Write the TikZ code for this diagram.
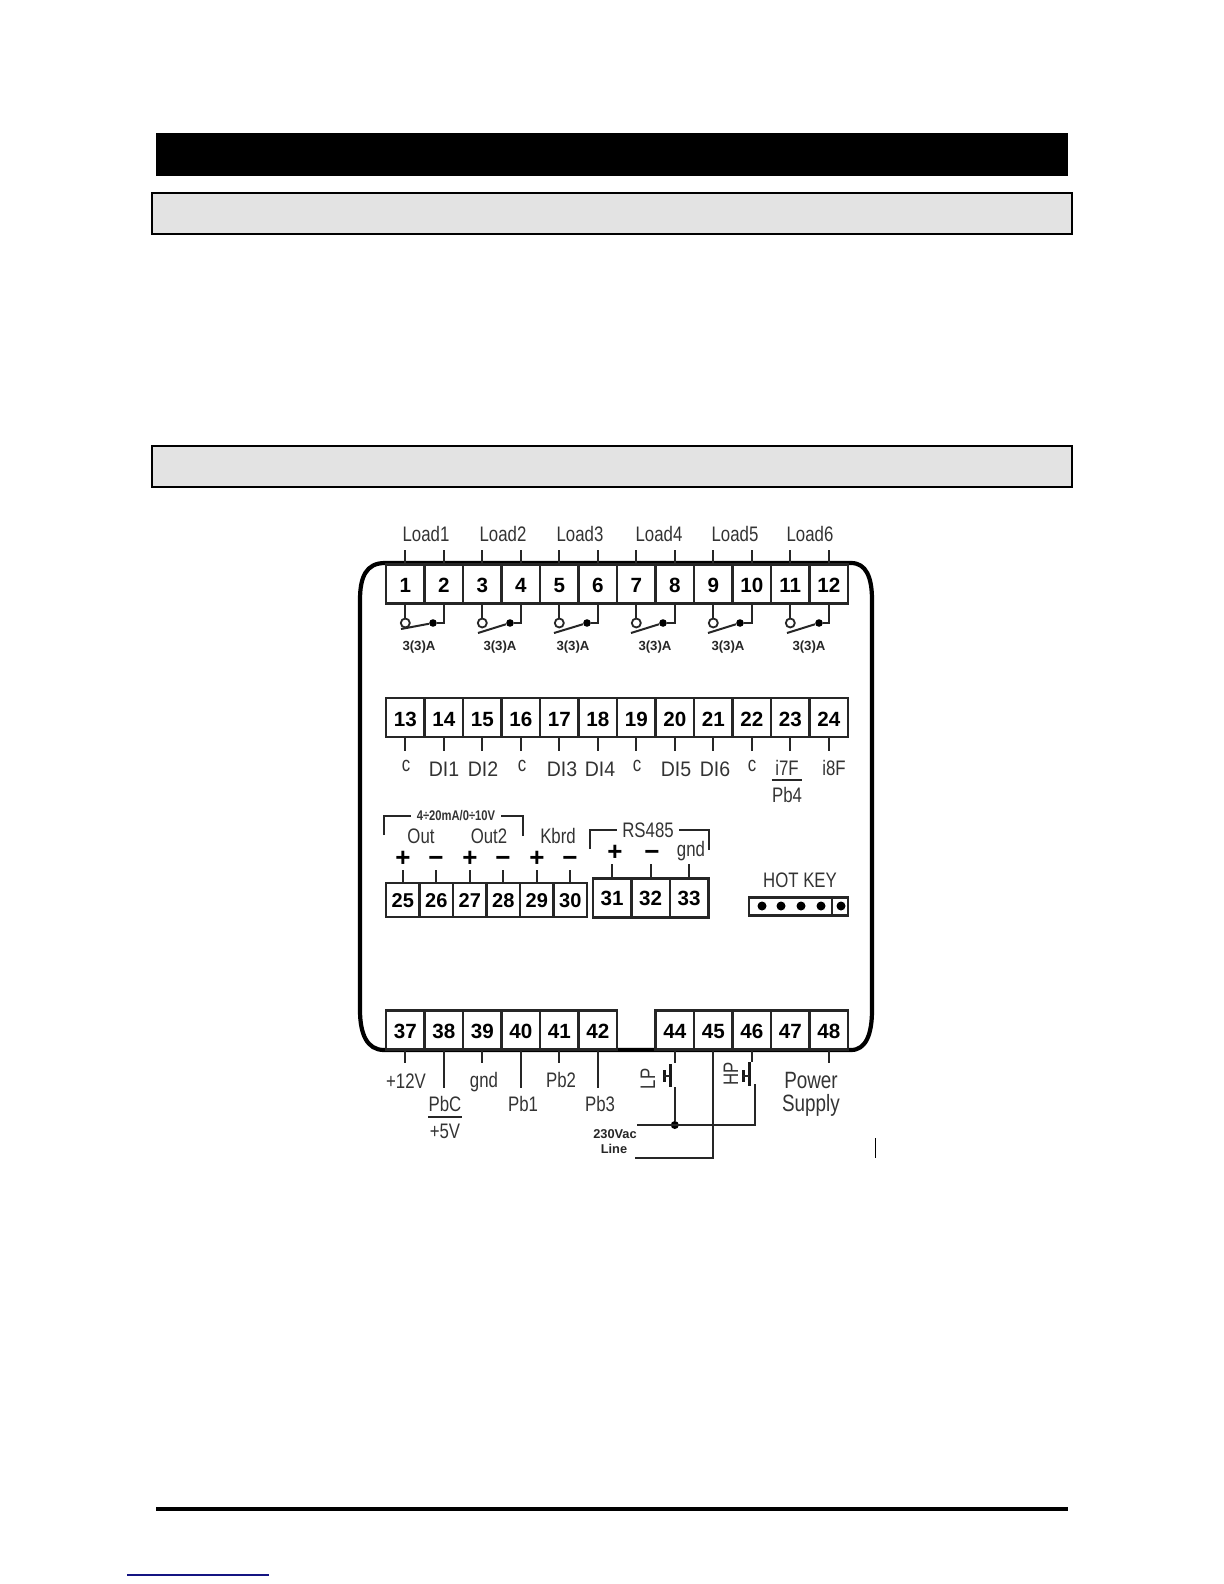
\documentclass[tikz,border=0pt]{standalone}
\usepackage{fontspec}
\setmainfont{Liberation Sans}
\newfontfamily\condfont[FakeStretch=0.8]{Liberation Sans}
\newfontfamily\widefont[FakeStretch=0.93]{Liberation Sans}
\begin{document}
\begin{tikzpicture}[
    x=0.5pt, y=-0.5pt,
    term/.style={draw=black!85, line width=1.25pt, fill=white, minimum width=19.25pt, minimum height=19.5pt, inner sep=0pt, text height=8.5pt, text depth=0pt, font=\fontsize{10.3}{11}\selectfont\bfseries},
    termlow/.style={term, minimum width=16.75pt, minimum height=17pt, text height=7pt, font=\fontsize{10}{11}\selectfont\bfseries},
    termrs/.style={term, text height=7.8pt},
    lbl/.style={inner sep=0pt, text=black!80, font=\fontsize{10.5}{11}\selectfont\condfont},
    dilbl/.style={lbl, font=\fontsize{10.5}{11}\selectfont\widefont},
    powerlbl/.style={lbl, font=\fontsize{11.8}{12}\selectfont\condfont},
    small/.style={inner sep=0pt, text=black!85, font=\fontsize{6.6}{7}\selectfont\bfseries},
    sign/.style={inner sep=0pt, text height=7pt, text depth=0pt, font=\fontsize{13}{13}\selectfont\bfseries},
    lead/.style={line width=1pt, black!85},
    bracket/.style={line width=1pt, black!85, shorten >=2.5pt},
    bar/.style={line width=1.5pt, black!90},
    fraction/.style={line width=1.25pt, black!85},
    opencontact/.style={circle, draw=black!85, line width=0.9pt, fill=white, minimum size=4.5pt, inner sep=0pt},
    closedot/.style={circle, fill=black, minimum size=3.8pt, inner sep=0pt},
    pindot/.style={circle, fill=black, minimum size=4.5pt, inner sep=0pt},
    header/.style={draw=black, line width=1pt, fill=black!11, minimum width=460pt, minimum height=20.5pt, inner sep=0pt}
  ]
  \useasboundingbox (0,0) rectangle (1224,1584);

  % Page bands above and below the drawing
  \node[fill=black, minimum width=456pt, minimum height=21.5pt, inner sep=0pt] (titlebar) at (612,154.5) {};
  \node[header] (headerone) at (612,213) {};
  \node[header] (headertwo) at (612,466) {};
  \node[fill=black, minimum width=456pt, minimum height=2pt, inner sep=0pt] (footbar) at (612,1509) {};
  \node[fill={rgb,255:red,20;green,20;blue,130}, minimum width=71pt, minimum height=0.8pt, inner sep=0pt] (footlink) at (198,1575) {};

  % Outer case
  \draw[line width=2.1pt] (360,600) .. controls (360,577) and (366,563) .. (385,563) -- (851,563)
    .. controls (866,563) and (872,577) .. (872,600) -- (872,1010)
    .. controls (872,1034) and (866,1050) .. (851,1050) -- (384,1050)
    .. controls (367,1050) and (360,1034) .. (360,1010) -- cycle;

  % Top row of terminals
  \node[term] (t1) at (405.3,584) {1};
  \node[term] (t2) at (443.8,584) {2};
  \node[term] (t3) at (482.3,584) {3};
  \node[term] (t4) at (520.8,584) {4};
  \node[term] (t5) at (559.3,584) {5};
  \node[term] (t6) at (597.8,584) {6};
  \node[term] (t7) at (636.3,584) {7};
  \node[term] (t8) at (674.8,584) {8};
  \node[term] (t9) at (713.3,584) {9};
  \node[term] (t10) at (751.8,584) {10};
  \node[term] (t11) at (790.3,584) {11};
  \node[term] (t12) at (828.8,584) {12};

  % Load labels and their leads
  \coordinate (topline) at (0,550);
  \node[lbl] (load1) at (426,534) {Load1};
  \node[lbl] (load2) at (503,534) {Load2};
  \node[lbl] (load3) at (580,534) {Load3};
  \node[lbl] (load4) at (659,534) {Load4};
  \node[lbl] (load5) at (735,534) {Load5};
  \node[lbl] (load6) at (810,534) {Load6};
  \draw[lead] (t1.north) -- (t1.north |- topline);
  \draw[lead] (t2.north) -- (t2.north |- topline);
  \draw[lead] (t3.north) -- (t3.north |- topline);
  \draw[lead] (t4.north) -- (t4.north |- topline);
  \draw[lead] (t5.north) -- (t5.north |- topline);
  \draw[lead] (t6.north) -- (t6.north |- topline);
  \draw[lead] (t7.north) -- (t7.north |- topline);
  \draw[lead] (t8.north) -- (t8.north |- topline);
  \draw[lead] (t9.north) -- (t9.north |- topline);
  \draw[lead] (t10.north) -- (t10.north |- topline);
  \draw[lead] (t11.north) -- (t11.north |- topline);
  \draw[lead] (t12.north) -- (t12.north |- topline);

  % Relay contacts
  \node[opencontact] (o1) at (405.3,623) {};
  \node[closedot] (d1) at (433,623) {};
  \coordinate (b1) at (401,629);
  \draw[lead] (t1) -- (o1);
  \draw[lead] (t2.south) |- (d1);
  \draw[lead] (b1) -- (d1);
  \node[opencontact] (o2) at (482.3,623) {};
  \node[closedot] (d2) at (510,623) {};
  \coordinate (b2) at (478,633);
  \draw[lead] (t3) -- (o2);
  \draw[lead] (t4.south) |- (d2);
  \draw[lead] (b2) -- (d2);
  \node[opencontact] (o3) at (559.3,623) {};
  \node[closedot] (d3) at (587,623) {};
  \coordinate (b3) at (554,633);
  \draw[lead] (t5) -- (o3);
  \draw[lead] (t6.south) |- (d3);
  \draw[lead] (b3) -- (d3);
  \node[opencontact] (o4) at (636.3,623) {};
  \node[closedot] (d4) at (663,623) {};
  \coordinate (b4) at (631,633);
  \draw[lead] (t7) -- (o4);
  \draw[lead] (t8.south) |- (d4);
  \draw[lead] (b4) -- (d4);
  \node[opencontact] (o5) at (713.3,623) {};
  \node[closedot] (d5) at (740,623) {};
  \coordinate (b5) at (708,633);
  \draw[lead] (t9) -- (o5);
  \draw[lead] (t10.south) |- (d5);
  \draw[lead] (b5) -- (d5);
  \node[opencontact] (o6) at (790.3,623) {};
  \node[closedot] (d6) at (819,623) {};
  \coordinate (b6) at (787,633);
  \draw[lead] (t11) -- (o6);
  \draw[lead] (t12.south) |- (d6);
  \draw[lead] (b6) -- (d6);
  \node[small] (amp1) at (419,647) {3(3)A};
  \node[small] (amp2) at (500,647) {3(3)A};
  \node[small] (amp3) at (573,647) {3(3)A};
  \node[small] (amp4) at (655,647) {3(3)A};
  \node[small] (amp5) at (728,647) {3(3)A};
  \node[small] (amp6) at (809,647) {3(3)A};

  % Middle row of terminals
  \node[term] (t13) at (405.3,717.5) {13};
  \node[term] (t14) at (443.8,717.5) {14};
  \node[term] (t15) at (482.3,717.5) {15};
  \node[term] (t16) at (520.8,717.5) {16};
  \node[term] (t17) at (559.3,717.5) {17};
  \node[term] (t18) at (597.8,717.5) {18};
  \node[term] (t19) at (636.3,717.5) {19};
  \node[term] (t20) at (674.8,717.5) {20};
  \node[term] (t21) at (713.3,717.5) {21};
  \node[term] (t22) at (751.8,717.5) {22};
  \node[term] (t23) at (790.3,717.5) {23};
  \node[term] (t24) at (828.8,717.5) {24};

  % Digital input labels and leads
  \coordinate (midline) at (0,751);
  \node[lbl] (c1) at (406,766) {c};
  \node[dilbl] (di1) at (444,769) {DI1};
  \node[dilbl] (di2) at (483,769) {DI2};
  \node[lbl] (c2) at (522,766) {c};
  \node[dilbl] (di3) at (562,769) {DI3};
  \node[dilbl] (di4) at (600,769) {DI4};
  \node[lbl] (c3) at (637,766) {c};
  \node[dilbl] (di5) at (676,769) {DI5};
  \node[dilbl] (di6) at (715,769) {DI6};
  \node[lbl] (c4) at (752,766) {c};
  \node[lbl] (i7f) at (787,768) {i7F};
  \node[lbl] (pb4) at (787,795) {Pb4};
  \node[lbl] (i8f) at (834,768) {i8F};
  \draw[fraction] (pb4.west |- 0,780) -- (pb4.east |- 0,780);
  \draw[lead] (t13.south) -- (t13.south |- midline);
  \draw[lead] (t14.south) -- (t14.south |- midline);
  \draw[lead] (t15.south) -- (t15.south |- midline);
  \draw[lead] (t16.south) -- (t16.south |- midline);
  \draw[lead] (t17.south) -- (t17.south |- midline);
  \draw[lead] (t18.south) -- (t18.south |- midline);
  \draw[lead] (t19.south) -- (t19.south |- midline);
  \draw[lead] (t20.south) -- (t20.south |- midline);
  \draw[lead] (t21.south) -- (t21.south |- midline);
  \draw[lead] (t22.south) -- (t22.south |- midline);
  \draw[lead] (t23.south) -- (t23.south |- midline);
  \draw[lead] (t24.south) -- (t24.south |- midline);

  % Analog outputs and keyboard block
  \node[termlow] (t25) at (402.8,900) {25};
  \node[termlow] (t26) at (436.3,900) {26};
  \node[termlow] (t27) at (469.8,900) {27};
  \node[termlow] (t28) at (503.3,900) {28};
  \node[termlow] (t29) at (536.8,900) {29};
  \node[termlow] (t30) at (570.3,900) {30};
  \coordinate (signline) at (0,870);
  \node[sign] (p25) at (403,859) {+};
  \node[sign] (m26) at (436,859) {−};
  \node[sign] (p27) at (470,859) {+};
  \node[sign] (m28) at (503,859) {−};
  \node[sign] (p29) at (537,859) {+};
  \node[sign] (m30) at (570,859) {−};
  \draw[lead] (t25.north) -- (t25.north |- signline);
  \draw[lead] (t26.north) -- (t26.north |- signline);
  \draw[lead] (t27.north) -- (t27.north |- signline);
  \draw[lead] (t28.north) -- (t28.north |- signline);
  \draw[lead] (t29.north) -- (t29.north |- signline);
  \draw[lead] (t30.north) -- (t30.north |- signline);
  \node[lbl] (out1) at (421,836) {Out};
  \node[lbl] (out2) at (489,836) {Out2};
  \node[lbl] (kbrd) at (558,836) {Kbrd};
  \node[lbl, font=\fontsize{7}{7}\selectfont\condfont\bfseries] (range) at (456,816) {4÷20mA/0÷10V};
  \coordinate (rangeleft) at (384,835);
  \coordinate (rangeright) at (523,836);
  \draw[bracket] (rangeleft) |- (range.west);
  \draw[bracket] (rangeright) |- (range.east);

  % RS485 block
  \node[termrs] (t31) at (612,898) {31};
  \node[termrs] (t32) at (650.5,898) {32};
  \node[termrs] (t33) at (689,898) {33};
  \coordinate (rsline) at (0,864);
  \node[sign] (p31) at (615,853) {+};
  \node[sign] (m32) at (652,853) {−};
  \node[lbl] (gnd33) at (691,851) {gnd};
  \draw[lead] (t31.north) -- (t31.north |- rsline);
  \draw[lead] (t32.north) -- (t32.north |- rsline);
  \draw[lead] (t33.north) -- (t33.north |- rsline);
  \node[lbl] (rs) at (648,830) {RS485};
  \coordinate (rsleft) at (590,849);
  \coordinate (rsright) at (709,850);
  \draw[bracket] (rsleft) |- (rs.west);
  \draw[bracket] (rsright) |- (rs.east);

  % Hot key socket
  \node[lbl] (hotkey) at (800,880) {HOT KEY};
  \node[draw=black!85, line width=1.25pt, minimum width=41.5pt, minimum height=9pt, inner sep=0pt] (socket) at (790.5,906.5) {};
  \node[draw=black!85, line width=1.25pt, minimum width=8pt, minimum height=9pt, inner sep=0pt] (socketend) at (840,906.5) {};
  \node[pindot] (pin1) at (762,906) {};
  \node[pindot] (pin2) at (781,906) {};
  \node[pindot] (pin3) at (801,906) {};
  \node[pindot] (pin4) at (821,906) {};
  \node[pindot] (pin5) at (841,906) {};

  % Bottom row of terminals
  \node[term] (t37) at (405.3,1030) {37};
  \node[term] (t38) at (443.8,1030) {38};
  \node[term] (t39) at (482.3,1030) {39};
  \node[term] (t40) at (520.8,1030) {40};
  \node[term] (t41) at (559.3,1030) {41};
  \node[term] (t42) at (597.8,1030) {42};
  \node[term] (t44) at (674.8,1030) {44};
  \node[term] (t45) at (713.3,1030) {45};
  \node[term] (t46) at (751.8,1030) {46};
  \node[term] (t47) at (790.3,1030) {47};
  \node[term] (t48) at (828.8,1030) {48};

  % Probe labels and leads
  \coordinate (shortline) at (0,1063);
  \coordinate (longline) at (0,1088);
  \node[lbl] (v12) at (406,1081) {+12V};
  \node[lbl] (pbc) at (445,1104) {PbC};
  \node[lbl] (v5) at (445,1131) {+5V};
  \node[lbl] (gnd39) at (484,1082) {gnd};
  \node[lbl] (pb1) at (523,1104) {Pb1};
  \node[lbl] (pb2) at (561,1080) {Pb2};
  \node[lbl] (pb3) at (600,1104) {Pb3};
  \node[powerlbl] (power) at (811,1080) {Power};
  \node[powerlbl] (supply) at (811,1105) {Supply};
  \draw[fraction] (pbc.west |- 0,1117) -- (pbc.east |- 0,1117);
  \draw[lead] (t37.south) -- (t37.south |- shortline);
  \draw[lead] (t38.south) -- (t38.south |- longline);
  \draw[lead] (t39.south) -- (t39.south |- shortline);
  \draw[lead] (t40.south) -- (t40.south |- longline);
  \draw[lead] (t41.south) -- (t41.south |- shortline);
  \draw[lead] (t42.south) -- (t42.south |- longline);
  \draw[lead] (t48.south) -- (t48.south |- shortline);

  % Pressure switches and the 230 Vac line
  \node[lbl, rotate=90] (lp) at (648,1079) {LP};
  \node[lbl, rotate=90] (hp) at (731,1074) {HP};
  \node[circle, fill=black, minimum size=4pt, inner sep=0pt] (junction) at (674.8,1125) {};
  \node[small, font=\fontsize{6.4}{7}\selectfont\bfseries] (vac) at (615,1134) {230Vac};
  \node[small, font=\fontsize{6.4}{7}\selectfont\bfseries] (linelbl) at (614,1149) {Line};
  \coordinate (lineend) at (637,1125);
  \coordinate (neutralend) at (635,1158);
  \coordinate (corner) at (755,1125);
  \coordinate (lowhp) at (755,1084);
  \coordinate (neutralcorner) at (713.3,1158);
  % contact bars
  \coordinate (lpa) at (670,1064);
  \coordinate (lpb) at (670,1087);
  \coordinate (lpc) at (664,1070);
  \coordinate (lpd) at (664,1082);
  \coordinate (hpa) at (749,1062);
  \coordinate (hpb) at (749,1086);
  \coordinate (hpc) at (743,1070);
  \coordinate (hpd) at (743,1082);
  \draw[bar] (lpa) -- (lpb);
  \draw[bar] (lpc) -- (lpd);
  \draw[lead] (lpc |- 0,1076) -- (lpa |- 0,1076);
  \draw[bar] (hpa) -- (hpb);
  \draw[bar] (hpc) -- (hpd);
  \draw[lead] (hpc |- 0,1076) -- (hpa |- 0,1076);
  \draw[lead] (t44.south) -- (t44.south |- shortline);
  \draw[lead] (t46.south) -- (t46.south |- 0,1062);
  \draw[lead] (junction) -- (junction |- 0,1087);
  \draw[lead] (lineend) -- (corner) -- (lowhp);
  \draw[lead] (t45.south) -- (neutralcorner) -- (neutralend);

  % Short stray tick at the lower right
  \coordinate (ticka) at (875,1138);
  \coordinate (tickb) at (875,1158);
  \draw[line width=0.5pt] (ticka) -- (tickb);

\end{tikzpicture}
\end{document}
